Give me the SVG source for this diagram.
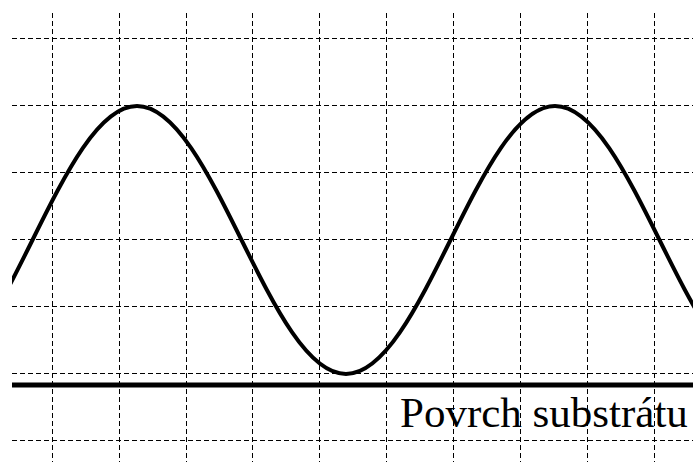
<svg xmlns="http://www.w3.org/2000/svg" width="693" height="462" viewBox="0 0 693 462">
<style>
.grid line{stroke:#000;stroke-width:1;stroke-dasharray:5 3;fill:none}
.wave{fill:none;stroke:#000;stroke-width:4}
.label{font-family:"Liberation Serif","Times New Roman",serif;font-size:43px;fill:#000}
</style>
<defs><clipPath id="c"><rect x="12" y="0" width="681" height="462"/></clipPath></defs>
<rect width="693" height="462" fill="#fff"/>
<g id="grid" class="grid">
<line x1="52.5" y1="13" x2="52.5" y2="462"/>
<line x1="119.5" y1="13" x2="119.5" y2="462"/>
<line x1="186.5" y1="13" x2="186.5" y2="462"/>
<line x1="252.5" y1="13" x2="252.5" y2="462"/>
<line x1="319.5" y1="13" x2="319.5" y2="462"/>
<line x1="386.5" y1="13" x2="386.5" y2="462"/>
<line x1="453.5" y1="13" x2="453.5" y2="462"/>
<line x1="520.5" y1="13" x2="520.5" y2="462"/>
<line x1="587.5" y1="13" x2="587.5" y2="462"/>
<line x1="654.5" y1="13" x2="654.5" y2="462"/>
<line x1="12" y1="38.5" x2="693" y2="38.5"/>
<line x1="12" y1="105.5" x2="693" y2="105.5"/>
<line x1="12" y1="172.5" x2="693" y2="172.5"/>
<line x1="12" y1="239.5" x2="693" y2="239.5"/>
<line x1="12" y1="306.5" x2="693" y2="306.5"/>
<line x1="12" y1="373.5" x2="693" y2="373.5"/>
<line x1="12" y1="440.5" x2="693" y2="440.5"/>
</g>
<g id="substrate">
<line x1="12" y1="385" x2="693" y2="385" stroke="#000" stroke-width="5"/>
<text class="label" x="400" y="427">Povrch substrátu</text>
</g>
<g id="wave" clip-path="url(#c)">
<path class="wave" d="M -72 374 C 4 374, 61 106, 137 106 C 213 106, 270 374, 346 374 C 422 374, 479 106, 555 106 C 631 106, 688 374, 764 374"/>
</g>
</svg>
